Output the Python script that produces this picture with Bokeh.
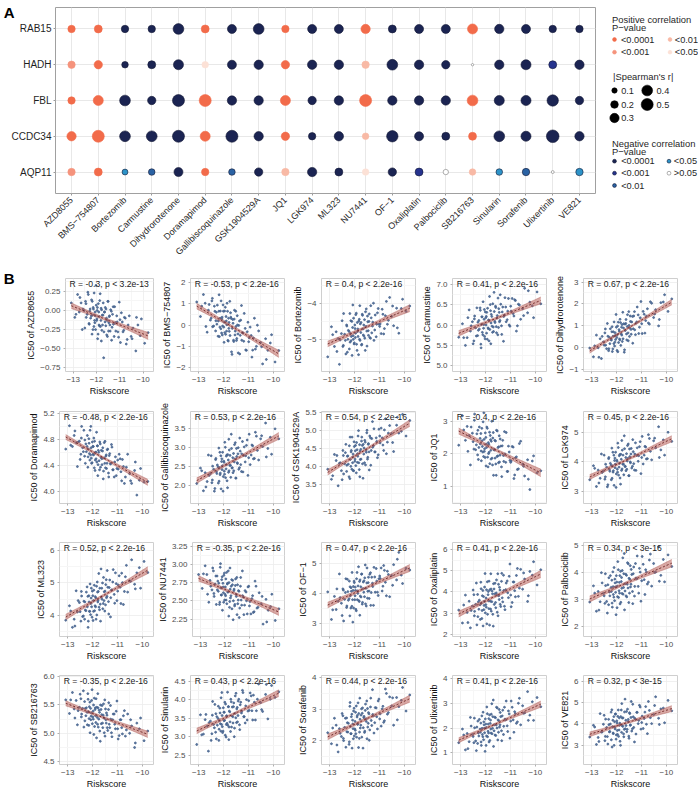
import numpy as np
from bokeh.plotting import figure
from bokeh.layouts import column, row
from bokeh.models import (Range1d, FixedTicker, Label, CustomJSTickFormatter, ColumnDataSource,
                          LinearAxis)
from bokeh.embed import file_html
from bokeh.resources import INLINE
from bokeh.core.properties import value

FONT = "Liberation Sans"

# ---------------- Panel A data ----------------
drugs = ["AZD8055", "BMS-754807", "Bortezomib", "Carmustine", "Dihydrorotenone",
         "Doramapimod", "Gallibiscoquinazole", "GSK1904529A", "JQ1", "LGK974",
         "ML323", "NU7441", "OF-1", "Oxaliplatin", "Palbociclib", "SB216763",
         "Sinularin", "Sorafenib", "Ulixertinib", "VE821"]
genes = ["AQP11", "CCDC34", "FBL", "HADH", "RAB15"]

# Spearman's r (sign = direction of correlation)
r_RAB15 = [0.19, 0.22, -0.19, -0.19, -0.40, 0.22, -0.28, -0.40, 0.19, -0.28,
           -0.28, 0.30, -0.22, -0.28, -0.28, 0.35, -0.30, -0.28, -0.19, -0.19]
r_HADH = [0.19, 0.24, -0.15, -0.22, -0.35, 0.15, -0.28, -0.30, 0.24, -0.30,
          -0.30, 0.19, -0.40, -0.30, -0.24, -0.02, -0.30, -0.35, -0.22, -0.30]
r_FBL = [0.19, 0.35, -0.40, -0.24, -0.50, 0.50, -0.30, -0.30, 0.35, -0.24,
         -0.30, 0.50, -0.30, -0.30, -0.30, 0.40, -0.35, -0.35, -0.45, -0.24]
r_CCDC34 = [0.30, 0.50, -0.40, -0.40, -0.50, 0.35, -0.50, -0.30, 0.24, -0.19,
            -0.30, 0.15, -0.45, -0.28, -0.22, 0.22, -0.40, -0.35, -0.55, -0.30]
r_AQP11 = [0.19, 0.22, -0.12, -0.15, -0.28, 0.19, -0.15, -0.24, 0.19, -0.30,
           -0.22, 0.15, -0.24, -0.22, -0.10, 0.15, -0.15, -0.19, -0.03, -0.19]
# P-value class: 1 <0.0001, 2 <0.001, 3 <0.01, 4 <0.05, 5 >0.05
p_RAB15 = [1] * 20
p_HADH = [2, 1, 1, 1, 1, 4, 1, 1, 1, 1, 1, 3, 1, 1, 1, 5, 1, 1, 2, 1]
p_FBL = [1] * 20
p_CCDC34 = [1, 1, 1, 1, 1, 1, 1, 1, 1, 1, 1, 3, 1, 1, 1, 1, 1, 1, 1, 1]
p_AQP11 = [2, 1, 4, 3, 1, 1, 3, 1, 3, 1, 1, 4, 1, 2, 5, 3, 4, 3, 5, 4]
p_labels = ["<0.0001", "<0.001", "<0.01", "<0.05", ">0.05"]
size_legend = [0.1, 0.2, 0.3, 0.4, 0.5]

spearman = {"AQP11": r_AQP11, "CCDC34": r_CCDC34, "FBL": r_FBL, "HADH": r_HADH, "RAB15": r_RAB15}
pclass = {"AQP11": p_AQP11, "CCDC34": p_CCDC34, "FBL": p_FBL, "HADH": p_HADH, "RAB15": p_RAB15}

# ---------------- Panel B data (one value per sample, same samples in every panel) ----------------
riskscore = [-13.08, -12.93, -12.81, -12.74, -12.66, -12.61, -12.53, -12.47, -12.44, -12.37,
             -12.31, -12.29, -12.22, -12.18, -12.15, -12.13, -12.07, -12.05, -12.02, -11.99,
             -11.96, -11.95, -11.90, -11.87, -11.86, -11.81, -11.78, -11.77, -11.72, -11.69,
             -11.66, -11.62, -11.60, -11.57, -11.53, -11.51, -11.47, -11.44, -11.41, -11.36,
             -11.33, -11.28, -11.24, -11.19, -11.13, -11.08, -11.02, -10.97, -10.89, -10.83,
             -10.76, -10.68, -10.59, -10.51, -10.43, -10.31, -10.22, -10.07, -9.93, -9.78,
             -12.88, -12.71, -12.58, -12.50, -12.45, -12.40, -12.35, -12.32, -12.27, -12.25,
             -12.21, -12.19, -12.17, -12.14, -12.11, -12.10, -12.08, -12.06, -12.04, -12.01,
             -11.98, -11.97, -11.93, -11.92, -11.89, -11.88, -11.84, -11.83, -11.80, -11.79,
             -11.75, -11.74, -11.71, -11.68, -11.65, -11.63, -11.59, -11.56, -11.54, -11.50,
             -11.48, -11.45, -11.42, -11.39, -11.35, -11.31, -11.27, -11.22, -11.17, -11.11,
             -11.05, -10.99, -10.93, -10.86, -10.80, -10.72, -10.64, -10.47, -10.28, -10.12]

ic50_AZD8055 = [0.10, -0.09, 0.21, -0.02, 0.10, -0.25, 0.00, 0.12, -0.09, 0.24,
                -0.18, -0.01, -0.07, 0.12, -0.25, 0.02, -0.16, -0.07, 0.33, -0.13,
                0.04, -0.37, -0.02, -0.20, 0.13, -0.13, 0.01, -0.26, -0.06, -0.62,
                -0.02, 0.04, -0.20, -0.10, -0.34, 0.12, -0.16, -0.07, -0.27, -0.01,
                -0.22, 0.05, -0.34, -0.16, -0.07, -0.28, 0.11, -0.42, -0.15, -0.26,
                -0.10, -0.38, -0.07, -0.34, -0.23, -0.53, -0.19, -0.11, -0.43, -0.29,
                -0.05, 0.17, 0.02, -0.23, 0.09, -0.05, 0.21, -0.17, 0.02, -0.10,
                0.14, -0.31, -0.06, 0.04, -0.21, 0.23, -0.13, -0.02, -0.25, 0.07,
                -0.11, 0.00, -0.31, 0.09, -0.19, -0.08, 0.22, -0.21, 0.03, -0.40,
                -0.06, -0.19, 0.10, -0.28, -0.02, -0.15, 0.02, -0.32, -0.13, 0.12,
                -0.27, -0.08, -0.19, 0.01, -0.39, -0.05, -0.18, 0.05, -0.27, -0.15,
                -0.35, -0.12, -0.03, -0.28, -0.09, -0.44, -0.19, -0.37, -0.09, -0.33]
ic50_BMS754807 = [1.09, 0.40, 1.44, 1.03, -0.34, 0.70, 0.23, 1.14, -0.08, 0.89,
                  0.20, 0.60, -0.53, 1.43, -0.10, 0.66, 0.28, -0.47, 0.95, -0.10,
                  0.66, -0.36, 0.40, 0.01, 1.03, -0.76, 0.12, -0.30, 0.58, 0.31,
                  -1.39, 0.08, -0.72, 0.28, -0.29, 0.65, -0.64, 0.00, -1.32, 0.19,
                  -0.49, 0.92, -0.36, -0.77, -0.16, -1.20, 0.13, -0.61, -0.50, -1.19,
                  0.32, -1.01, -0.28, -0.83, -1.84, -0.65, -1.20, -0.46, -1.75, -1.21,
                  0.89, -0.07, 0.97, 0.32, 1.26, -0.05, 0.65, -0.28, 0.04, 0.94,
                  0.19, 0.65, -0.55, 0.32, -0.18, 1.14, -0.38, 0.37, -0.05, 0.65,
                  -0.82, 0.14, 0.84, -0.44, 0.19, -0.29, 0.65, -0.73, 0.32, -0.16,
                  1.12, -0.50, 0.37, -1.27, -0.16, 0.26, -0.78, 0.70, -0.47, -0.07,
                  -0.73, 0.44, -0.42, -0.02, -1.37, 0.23, -0.72, -0.38, 0.55, -1.18,
                  -0.32, -0.79, -0.10, -1.52, -0.61, -1.14, -0.01, -1.03, -1.63, -0.85]
ic50_Bortezomib = [-5.49, -4.65, -5.20, -4.79, -4.98, -5.70, -4.84, -5.20, -4.28, -5.03,
                   -4.63, -5.36, -4.78, -5.08, -4.48, -4.92, -4.04, -5.00, -5.13, -4.60,
                   -4.83, -4.31, -5.31, -4.71, -4.92, -4.44, -5.03, -4.57, -5.16, -4.30,
                   -4.71, -4.91, -4.45, -5.31, -4.15, -4.77, -4.51, -4.89, -4.29, -4.97,
                   -4.40, -4.63, -3.99, -4.74, -4.93, -4.26, -4.58, -4.57, -4.16, -4.85,
                   -4.34, -4.58, -3.83, -4.36, -4.62, -4.13, -4.83, -3.88, -4.22, -4.07,
                   -4.87, -5.34, -5.02, -4.48, -5.17, -4.86, -5.41, -4.60, -5.00, -4.75,
                   -5.27, -4.28, -4.84, -5.04, -4.50, -5.45, -4.67, -4.90, -4.41, -5.10,
                   -4.70, -4.95, -4.27, -5.14, -4.53, -4.78, -5.43, -4.49, -5.00, -4.06,
                   -4.81, -4.53, -5.14, -4.33, -4.88, -4.60, -4.97, -4.23, -4.64, -5.19,
                   -4.35, -4.76, -4.50, -4.95, -4.06, -4.82, -4.52, -5.03, -4.32, -4.58,
                   -4.14, -4.64, -4.84, -4.30, -4.70, -3.94, -4.47, -4.07, -4.68, -4.14]
ic50_Carmustine = [5.70, 6.03, 5.50, 5.69, 6.37, 5.85, 6.08, 5.61, 6.22, 5.73,
                   6.07, 5.87, 6.42, 5.44, 6.20, 5.82, 6.01, 6.38, 5.66, 6.18,
                   5.80, 6.31, 5.93, 6.12, 5.61, 6.50, 6.05, 6.26, 5.82, 5.95,
                   6.80, 6.06, 6.46, 5.96, 6.23, 5.76, 6.40, 6.08, 6.74, 5.98,
                   6.32, 5.60, 6.24, 6.44, 6.13, 6.65, 5.97, 6.34, 6.28, 6.62,
                   5.85, 6.51, 6.14, 6.40, 6.90, 6.30, 6.56, 6.18, 6.81, 6.52,
                   5.69, 6.18, 5.98, 5.54, 6.15, 5.93, 6.42, 5.74, 6.11, 5.90,
                   6.36, 5.53, 6.01, 6.20, 5.76, 6.57, 5.92, 6.14, 5.72, 6.32,
                   6.00, 6.21, 5.65, 6.41, 5.91, 6.12, 6.70, 5.89, 6.35, 5.54,
                   6.21, 5.97, 6.52, 5.84, 6.33, 6.09, 6.43, 5.81, 6.17, 6.66,
                   5.94, 6.31, 6.11, 6.51, 5.77, 6.44, 6.21, 6.67, 6.08, 6.34,
                   6.00, 6.46, 6.65, 6.22, 6.60, 5.98, 6.49, 6.23, 6.84, 6.47]
ic50_Dihydrorotenone = [-0.01, -0.41, 0.58, 0.00, 0.41, -0.49, 0.27, 0.68, 0.12, 1.11,
                        -0.04, 0.48, 0.39, 0.96, -0.05, 0.73, 0.26, 0.56, 1.52, 0.47,
                        0.99, -0.18, 0.83, 0.36, 1.30, 0.63, 1.06, 0.29, 0.90, -0.20,
                        1.08, 1.29, 0.63, 0.97, 0.32, 1.65, 0.91, 1.20, 0.62, 1.43,
                        0.87, 1.65, 0.60, 1.18, 1.50, 0.94, 2.11, 0.65, 1.53, 1.24,
                        1.78, 1.08, 2.03, 1.38, 1.74, 1.00, 2.06, 2.42, 1.66, 2.23,
                        0.09, -0.43, 0.52, 0.12, 0.86, -0.04, 0.53, -0.13, 0.19, 0.87,
                        0.35, 0.73, -0.17, 0.53, 0.19, 1.18, 0.08, 0.69, 0.38, 0.94,
                        -0.12, 0.60, 1.17, 0.24, 0.76, 0.40, 1.15, 0.11, 0.94, 0.58,
                        1.62, 0.41, 1.10, -0.09, 0.79, 1.11, 0.36, 1.51, 0.68, 1.02,
                        0.52, 1.45, 0.84, 1.18, 0.21, 1.45, 0.82, 1.12, 1.86, 0.65,
                        1.37, 1.10, 1.66, 0.67, 1.44, 1.13, 2.10, 1.54, 1.29, 2.09]
ic50_Doramapimod = [4.65, 5.01, 4.69, 4.86, 4.75, 4.38, 4.77, 4.57, 5.00, 4.61,
                    4.79, 4.43, 4.69, 4.53, 4.81, 4.58, 5.00, 4.51, 4.44, 4.69,
                    4.56, 4.82, 4.32, 4.60, 4.50, 4.70, 4.41, 4.63, 4.33, 4.73,
                    4.52, 4.41, 4.62, 4.19, 4.75, 4.43, 4.54, 4.35, 4.64, 4.28,
                    4.55, 4.42, 4.72, 4.33, 4.22, 4.53, 4.35, 4.34, 4.50, 4.16,
                    4.38, 4.22, 4.57, 4.27, 4.12, 4.32, 3.94, 4.35, 4.14, 4.15,
                    4.71, 4.93, 4.76, 4.49, 4.82, 4.67, 4.94, 4.54, 4.73, 4.61,
                    4.86, 4.37, 4.65, 4.74, 4.48, 4.94, 4.56, 4.67, 4.43, 4.76,
                    4.57, 4.69, 4.36, 4.77, 4.48, 4.60, 4.91, 4.45, 4.70, 4.24,
                    4.60, 4.47, 4.76, 4.37, 4.63, 4.50, 4.67, 4.31, 4.51, 4.77,
                    4.36, 4.56, 4.43, 4.65, 4.22, 4.58, 4.43, 4.68, 4.33, 4.45,
                    4.24, 4.48, 4.57, 4.30, 4.49, 4.12, 4.37, 4.16, 4.45, 4.17]
ic50_Gallibiscoquinazole = [2.06, 2.46, 1.87, 2.34, 2.11, 2.80, 2.32, 2.08, 2.51, 1.86,
                            2.71, 2.37, 2.49, 2.12, 2.87, 2.33, 2.70, 2.52, 1.86, 2.64,
                            2.30, 3.13, 2.44, 2.80, 2.13, 2.67, 2.39, 2.93, 2.53, 3.34,
                            2.46, 2.34, 2.84, 2.62, 3.12, 2.20, 2.76, 2.58, 2.99, 2.47,
                            2.90, 2.37, 3.15, 2.79, 2.62, 3.05, 2.27, 3.34, 2.80, 3.04,
                            2.71, 3.29, 2.67, 3.22, 3.02, 3.63, 2.97, 2.82, 3.48, 3.22,
                            2.39, 1.97, 2.27, 2.78, 2.15, 2.43, 1.93, 2.68, 2.32, 2.54,
                            2.07, 2.98, 2.47, 2.29, 2.78, 1.92, 2.63, 2.42, 2.87, 2.24,
                            2.61, 2.38, 3.00, 2.21, 2.77, 2.55, 1.95, 2.81, 2.35, 3.21,
                            2.53, 2.79, 2.22, 2.97, 2.47, 2.73, 2.39, 3.07, 2.70, 2.20,
                            2.97, 2.60, 2.83, 2.43, 3.24, 2.55, 2.83, 2.36, 3.01, 2.78,
                            3.19, 2.73, 2.55, 3.06, 2.70, 3.39, 2.92, 3.30, 2.75, 3.26]
ic50_GSK1904529A = [3.93, 3.65, 4.34, 4.17, 3.47, 4.09, 3.89, 4.45, 3.80, 4.39,
                    4.04, 4.29, 3.72, 4.82, 4.01, 4.45, 4.27, 3.89, 4.69, 4.15,
                    4.59, 4.03, 4.47, 4.29, 4.85, 3.92, 4.43, 4.20, 4.71, 4.59,
                    3.68, 4.52, 4.11, 4.68, 4.40, 4.94, 4.26, 4.64, 3.91, 4.80,
                    4.45, 5.25, 4.58, 4.41, 4.80, 4.25, 5.04, 4.66, 4.80, 4.45,
                    5.33, 4.68, 5.14, 4.92, 4.42, 5.15, 4.93, 5.45, 4.85, 5.28,
                    3.75, 4.31, 4.11, 3.64, 4.31, 4.08, 4.62, 3.87, 4.30, 4.07,
                    4.58, 3.67, 4.20, 4.41, 3.93, 4.82, 4.11, 4.35, 3.89, 4.56,
                    4.21, 4.44, 3.83, 4.67, 4.12, 4.36, 5.00, 4.11, 4.61, 3.72,
                    4.48, 4.21, 4.82, 4.08, 4.62, 4.35, 4.73, 4.05, 4.46, 5.01,
                    4.21, 4.62, 4.41, 4.85, 4.04, 4.78, 4.54, 5.05, 4.41, 4.70,
                    4.33, 4.85, 5.07, 4.60, 5.02, 4.36, 4.93, 4.67, 5.37, 4.98]
ic50_JQ1 = [2.27, 3.18, 2.42, 2.85, 2.57, 1.66, 2.64, 2.15, 3.23, 2.28,
            2.73, 1.83, 2.48, 2.09, 2.79, 2.23, 3.27, 2.08, 1.89, 2.51,
            2.20, 2.83, 1.60, 2.30, 2.05, 2.57, 1.84, 2.39, 1.66, 2.66,
            2.14, 1.87, 2.40, 1.34, 2.71, 1.94, 2.22, 1.75, 2.46, 1.60,
            2.25, 1.95, 2.69, 1.74, 1.46, 2.24, 1.80, 1.78, 2.21, 1.35,
            1.91, 1.54, 2.39, 1.68, 1.32, 1.82, 0.90, 1.94, 1.42, 1.48,
            2.74, 2.08, 2.83, 2.38, 3.04, 2.13, 2.62, 1.97, 2.20, 2.83,
            2.31, 2.63, 1.79, 2.41, 2.06, 2.99, 1.92, 2.45, 2.16, 2.65,
            1.63, 2.30, 2.79, 1.90, 2.35, 2.01, 2.67, 1.70, 2.44, 2.11,
            3.01, 1.87, 2.49, 1.34, 2.12, 2.42, 1.69, 2.73, 1.92, 2.20,
            1.73, 2.56, 1.96, 2.24, 1.30, 2.42, 1.77, 2.00, 2.66, 1.46,
            2.06, 1.74, 2.23, 1.24, 1.88, 1.52, 2.32, 1.62, 1.22, 1.78]
ic50_LGK974 = [3.39, 3.87, 3.16, 3.72, 3.44, 4.27, 3.69, 3.41, 3.92, 3.15,
               4.15, 3.74, 3.89, 3.44, 4.33, 3.70, 4.13, 3.92, 3.13, 4.06,
               3.65, 4.64, 3.82, 4.25, 3.45, 4.09, 3.76, 4.40, 3.92, 4.89,
               3.84, 3.70, 4.28, 4.03, 4.61, 3.53, 4.18, 3.97, 4.46, 3.85,
               4.35, 3.72, 4.65, 4.22, 4.02, 4.52, 3.60, 4.87, 4.23, 4.51,
               4.11, 4.80, 4.07, 4.72, 4.48, 5.20, 4.41, 4.23, 5.01, 4.70,
               3.78, 3.28, 3.64, 4.23, 3.49, 3.82, 3.22, 4.11, 3.68, 3.95,
               3.39, 4.47, 3.86, 3.65, 4.23, 3.20, 4.05, 3.80, 4.33, 3.59,
               4.02, 3.75, 4.49, 3.55, 4.21, 3.95, 3.24, 4.26, 3.71, 4.73,
               3.92, 4.23, 3.56, 4.45, 3.85, 4.15, 3.75, 4.56, 4.12, 3.53,
               4.44, 4.00, 4.27, 3.79, 4.76, 3.94, 4.27, 3.71, 4.48, 4.21,
               4.69, 4.15, 3.93, 4.53, 4.10, 4.93, 4.36, 4.81, 4.15, 4.75]
ic50_ML323 = [3.86, 4.30, 3.64, 3.89, 4.76, 4.11, 4.40, 3.83, 4.60, 3.99,
              4.42, 4.17, 4.88, 3.64, 4.61, 4.13, 4.37, 4.84, 3.95, 4.61,
              4.13, 4.78, 4.30, 4.54, 3.89, 5.03, 4.47, 4.74, 4.18, 4.35,
              5.43, 4.50, 5.00, 4.37, 4.73, 4.14, 4.95, 4.55, 5.38, 4.43,
              4.86, 3.96, 4.78, 5.03, 4.65, 5.31, 4.46, 4.94, 4.87, 5.30,
              4.34, 5.19, 4.72, 5.07, 5.71, 4.96, 5.31, 4.84, 5.66, 5.32,
              4.14, 3.68, 4.46, 4.12, 4.74, 3.97, 4.44, 3.89, 4.15, 4.72,
              4.27, 4.59, 3.83, 4.42, 4.13, 4.97, 4.03, 4.54, 4.27, 4.75,
              3.85, 4.46, 4.93, 4.15, 4.58, 4.27, 4.90, 4.02, 4.72, 4.42,
              5.29, 4.26, 4.84, 3.83, 4.57, 4.84, 4.21, 5.17, 4.46, 4.75,
              4.33, 5.10, 4.59, 4.87, 4.05, 5.09, 4.55, 4.79, 5.41, 4.38,
              4.98, 4.75, 5.22, 4.37, 5.01, 4.74, 5.54, 5.05, 4.82, 5.47]
ic50_NU7441 = [2.86, 2.67, 2.98, 2.86, 2.48, 2.78, 2.65, 2.91, 2.56, 2.84,
               2.65, 2.77, 2.45, 3.01, 2.58, 2.79, 2.69, 2.48, 2.88, 2.59,
               2.80, 2.51, 2.73, 2.62, 2.91, 2.41, 2.66, 2.54, 2.79, 2.72,
               2.24, 2.66, 2.43, 2.71, 2.56, 2.82, 2.46, 2.64, 2.27, 2.70,
               2.51, 2.91, 2.55, 2.44, 2.62, 2.32, 2.70, 2.49, 2.53, 2.34,
               2.77, 2.40, 2.61, 2.46, 2.18, 2.52, 2.37, 2.59, 2.23, 2.39,
               2.87, 2.59, 2.70, 2.95, 2.60, 2.73, 2.45, 2.84, 2.63, 2.74,
               2.48, 2.96, 2.68, 2.58, 2.83, 2.37, 2.74, 2.61, 2.85, 2.51,
               2.69, 2.57, 2.89, 2.46, 2.74, 2.62, 2.29, 2.75, 2.49, 2.95,
               2.57, 2.70, 2.39, 2.78, 2.50, 2.64, 2.45, 2.80, 2.59, 2.31,
               2.72, 2.51, 2.63, 2.40, 2.82, 2.44, 2.57, 2.31, 2.64, 2.50,
               2.69, 2.43, 2.32, 2.57, 2.35, 2.70, 2.41, 2.56, 2.21, 2.42]
ic50_OF1 = [4.04, 3.12, 3.89, 3.45, 3.73, 4.64, 3.66, 4.14, 3.07, 4.02,
            3.57, 4.46, 3.81, 4.21, 3.50, 4.06, 3.03, 4.22, 4.40, 3.78,
            4.09, 3.46, 4.69, 3.99, 4.24, 3.72, 4.44, 3.90, 4.63, 3.63,
            4.15, 4.41, 3.88, 4.94, 3.57, 4.34, 4.06, 4.53, 3.82, 4.68,
            4.02, 4.33, 3.59, 4.54, 4.82, 4.03, 4.48, 4.49, 4.07, 4.92,
            4.36, 4.73, 3.88, 4.59, 4.95, 4.44, 5.36, 4.32, 4.83, 4.77,
            3.44, 4.14, 3.85, 3.25, 4.10, 3.79, 4.48, 3.52, 4.05, 3.76,
            4.40, 3.24, 3.91, 4.18, 3.56, 4.69, 3.78, 4.09, 3.50, 4.35,
            3.91, 4.20, 3.41, 4.48, 3.78, 4.07, 4.88, 3.75, 4.39, 3.26,
            4.21, 3.87, 4.64, 3.69, 4.37, 4.03, 4.51, 3.64, 4.16, 4.84,
            3.83, 4.35, 4.07, 4.63, 3.59, 4.53, 4.22, 4.86, 4.03, 4.40,
            3.92, 4.57, 4.84, 4.23, 4.76, 3.91, 4.62, 4.26, 5.13, 4.60]
ic50_Oxaliplatin = [3.14, 2.53, 3.85, 3.03, 3.56, 2.30, 3.33, 3.87, 3.08, 4.42,
                    2.83, 3.53, 3.39, 4.15, 2.74, 3.82, 3.16, 3.55, 4.87, 3.40,
                    4.10, 2.49, 3.87, 3.21, 4.51, 3.56, 4.14, 3.09, 3.91, 2.38,
                    4.14, 4.41, 3.50, 3.95, 3.04, 4.86, 3.82, 4.22, 3.41, 4.50,
                    3.72, 4.79, 3.32, 4.11, 4.52, 3.73, 5.32, 3.30, 4.47, 4.06,
                    4.78, 3.79, 5.07, 4.13, 4.61, 3.55, 4.97, 5.43, 4.33, 5.05,
                    3.38, 2.55, 3.12, 4.09, 2.87, 3.41, 2.44, 3.88, 3.18, 3.61,
                    2.70, 4.46, 3.47, 3.12, 4.07, 2.39, 3.78, 3.36, 4.23, 3.01,
                    3.71, 3.28, 4.48, 2.94, 4.02, 3.58, 2.43, 4.10, 3.19, 4.86,
                    3.54, 4.04, 2.94, 4.39, 3.41, 3.91, 3.25, 4.57, 3.85, 2.87,
                    4.36, 3.64, 4.09, 3.31, 4.88, 3.53, 4.07, 3.16, 4.42, 3.96,
                    4.74, 3.85, 3.50, 4.47, 3.77, 5.11, 4.18, 4.90, 3.82, 4.79]
ic50_Palbociclib = [2.90, 3.50, 2.56, 3.29, 2.91, 3.99, 3.22, 2.85, 3.51, 2.49,
                    3.80, 3.27, 3.44, 2.86, 4.02, 3.18, 3.75, 3.46, 2.43, 3.64,
                    3.10, 4.40, 3.32, 3.88, 2.83, 3.66, 3.22, 4.07, 3.44, 4.70,
                    3.31, 3.13, 3.89, 3.56, 4.32, 2.88, 3.75, 3.46, 4.11, 3.29,
                    3.95, 3.12, 4.33, 3.76, 3.48, 4.15, 2.93, 4.59, 3.73, 4.10,
                    3.57, 4.46, 3.49, 4.33, 4.01, 4.95, 3.89, 3.65, 4.65, 4.22,
                    3.23, 2.60, 3.61, 3.13, 3.95, 2.92, 3.54, 2.80, 3.13, 3.88,
                    3.29, 3.71, 2.71, 3.47, 3.08, 4.18, 2.95, 3.61, 3.26, 3.88,
                    2.69, 3.49, 4.10, 3.07, 3.63, 3.23, 4.04, 2.89, 3.81, 3.41,
                    4.54, 3.19, 3.95, 2.61, 3.58, 3.93, 3.09, 4.36, 3.42, 3.78,
                    3.23, 4.25, 3.56, 3.92, 2.84, 4.20, 3.48, 3.79, 4.61, 3.23,
                    4.01, 3.69, 4.30, 3.18, 4.01, 3.64, 4.68, 4.00, 3.67, 4.48]
ic50_SB216763 = [5.59, 5.35, 5.72, 5.43, 5.58, 5.15, 5.46, 5.61, 5.34, 5.75,
                 5.22, 5.44, 5.37, 5.60, 5.14, 5.47, 5.24, 5.36, 5.77, 5.29,
                 5.50, 4.98, 5.42, 5.19, 5.61, 5.28, 5.45, 5.11, 5.37, 4.86,
                 5.42, 5.49, 5.18, 5.32, 5.01, 5.59, 5.24, 5.36, 5.10, 5.42,
                 5.16, 5.49, 5.01, 5.24, 5.34, 5.08, 5.57, 4.90, 5.24, 5.10,
                 5.31, 4.95, 5.34, 5.00, 5.13, 4.75, 5.18, 5.27, 4.87, 5.04,
                 5.59, 5.27, 5.40, 5.69, 5.29, 5.44, 5.11, 5.56, 5.31, 5.45,
                 5.15, 5.70, 5.38, 5.26, 5.55, 5.01, 5.44, 5.30, 5.58, 5.17,
                 5.39, 5.25, 5.62, 5.12, 5.45, 5.31, 4.92, 5.46, 5.16, 5.70,
                 5.25, 5.41, 5.04, 5.50, 5.17, 5.33, 5.10, 5.52, 5.27, 4.95,
                 5.43, 5.18, 5.32, 5.05, 5.54, 5.10, 5.25, 4.94, 5.34, 5.16,
                 5.39, 5.08, 4.96, 5.24, 4.99, 5.40, 5.06, 5.24, 4.83, 5.08]
ic50_Sinularin = [2.79, 3.59, 3.07, 3.46, 3.28, 2.61, 3.42, 3.08, 3.95, 3.24,
                  3.62, 2.94, 3.49, 3.20, 3.77, 3.35, 4.19, 3.27, 3.15, 3.66,
                  3.44, 3.93, 2.99, 3.56, 3.36, 3.81, 3.26, 3.69, 3.14, 3.94,
                  3.56, 3.37, 3.81, 3.00, 4.10, 3.51, 3.75, 3.40, 3.96, 3.32,
                  3.86, 3.64, 4.25, 3.54, 3.37, 4.00, 3.69, 3.71, 4.10, 3.45,
                  3.93, 3.70, 4.42, 3.92, 3.68, 4.14, 3.48, 4.38, 4.06, 4.21,
                  3.05, 3.60, 3.38, 2.90, 3.58, 3.33, 3.87, 3.12, 3.54, 3.31,
                  3.82, 2.90, 3.43, 3.64, 3.15, 4.05, 3.33, 3.57, 3.11, 3.78,
                  3.43, 3.66, 3.04, 3.88, 3.33, 3.56, 4.20, 3.31, 3.81, 2.92,
                  3.67, 3.40, 4.01, 3.26, 3.80, 3.54, 3.91, 3.23, 3.63, 4.17,
                  3.38, 3.79, 3.57, 4.01, 3.19, 3.93, 3.69, 4.19, 3.54, 3.83,
                  3.45, 3.97, 4.18, 3.70, 4.12, 3.45, 4.01, 3.73, 4.41, 4.01]
ic50_Sorafenib = [2.25, 1.90, 2.71, 2.49, 1.64, 2.38, 2.13, 2.79, 2.00, 2.71,
                  2.28, 2.57, 1.88, 3.21, 2.22, 2.76, 2.53, 2.06, 3.03, 2.37,
                  2.90, 2.22, 2.75, 2.52, 3.20, 2.07, 2.68, 2.40, 3.01, 2.87,
                  1.76, 2.77, 2.26, 2.96, 2.61, 3.26, 2.43, 2.89, 2.01, 3.07,
                  2.64, 3.62, 2.79, 2.57, 3.04, 2.37, 3.32, 2.85, 3.01, 2.58,
                  3.64, 2.84, 3.39, 3.10, 2.49, 3.37, 3.08, 3.69, 2.94, 3.45,
                  2.40, 1.86, 2.23, 2.86, 2.07, 2.42, 1.79, 2.72, 2.27, 2.55,
                  1.96, 3.09, 2.45, 2.22, 2.84, 1.76, 2.65, 2.38, 2.94, 2.15,
                  2.61, 2.33, 3.10, 2.11, 2.80, 2.52, 1.78, 2.86, 2.27, 3.35,
                  2.49, 2.81, 2.11, 3.04, 2.41, 2.73, 2.30, 3.16, 2.69, 2.06,
                  3.02, 2.55, 2.85, 2.34, 3.35, 2.48, 2.83, 2.24, 3.05, 2.76,
                  3.26, 2.69, 2.46, 3.09, 2.63, 3.50, 2.89, 3.36, 2.66, 3.28]
ic50_Ulixertinib = [1.41, 1.96, 1.12, 1.78, 1.45, 2.43, 1.74, 1.41, 2.01, 1.09,
                    2.28, 1.80, 1.96, 1.44, 2.49, 1.74, 2.25, 1.99, 1.06, 2.16,
                    1.68, 2.85, 1.87, 2.38, 1.44, 2.19, 1.80, 2.56, 1.99, 3.13,
                    1.89, 1.72, 2.42, 2.12, 2.81, 1.52, 2.30, 2.04, 2.63, 1.89,
                    2.49, 1.74, 2.84, 2.33, 2.09, 2.69, 1.59, 3.09, 2.33, 2.66,
                    2.19, 3.00, 2.13, 2.90, 2.61, 3.47, 2.52, 2.31, 3.23, 2.86,
                    1.72, 1.17, 2.08, 1.66, 2.40, 1.48, 2.04, 1.38, 1.68, 2.35,
                    1.83, 2.20, 1.30, 1.99, 1.65, 2.64, 1.53, 2.13, 1.81, 2.37,
                    1.30, 2.02, 2.58, 1.65, 2.16, 1.80, 2.53, 1.50, 2.32, 1.96,
                    2.98, 1.77, 2.46, 1.26, 2.13, 2.44, 1.70, 2.84, 2.00, 2.33,
                    1.83, 2.75, 2.13, 2.46, 1.49, 2.72, 2.07, 2.36, 3.09, 1.86,
                    2.57, 2.28, 2.84, 1.83, 2.58, 2.25, 3.20, 2.60, 2.31, 3.06]
ic50_VE821 = [3.38, 3.93, 3.03, 3.36, 4.48, 3.61, 3.98, 3.21, 4.22, 3.40,
              3.96, 3.62, 4.55, 2.91, 4.17, 3.54, 3.85, 4.46, 3.28, 4.14,
              3.50, 4.35, 3.71, 4.03, 3.18, 4.65, 3.92, 4.27, 3.53, 3.74,
              5.16, 3.92, 4.58, 3.74, 4.21, 3.42, 4.48, 3.95, 5.05, 3.77,
              4.33, 3.15, 4.21, 4.54, 4.01, 4.87, 3.75, 4.36, 4.25, 4.81,
              3.54, 4.63, 4.01, 4.44, 5.27, 4.26, 4.70, 4.05, 5.10, 4.61,
              3.85, 3.17, 3.62, 4.40, 3.41, 3.83, 3.05, 4.21, 3.64, 3.99,
              3.25, 4.66, 3.86, 3.57, 4.34, 2.99, 4.10, 3.76, 4.46, 3.48,
              4.04, 3.69, 4.65, 3.41, 4.28, 3.93, 2.99, 4.34, 3.60, 4.95,
              3.88, 4.28, 3.39, 4.56, 3.77, 4.17, 3.63, 4.69, 4.11, 3.32,
              4.52, 3.93, 4.30, 3.66, 4.92, 3.83, 4.26, 3.52, 4.54, 4.16,
              4.79, 4.06, 3.78, 4.55, 3.98, 5.05, 4.29, 4.86, 3.97, 4.74]

ic50 = [ic50_AZD8055, ic50_BMS754807, ic50_Bortezomib, ic50_Carmustine, ic50_Dihydrorotenone,
        ic50_Doramapimod, ic50_Gallibiscoquinazole, ic50_GSK1904529A, ic50_JQ1, ic50_LGK974,
        ic50_ML323, ic50_NU7441, ic50_OF1, ic50_Oxaliplatin, ic50_Palbociclib,
        ic50_SB216763, ic50_Sinularin, ic50_Sorafenib, ic50_Ulixertinib, ic50_VE821]

cor_labels = ["R = -0.3, p < 3.2e-13", "R = -0.53, p < 2.2e-16", "R = 0.4, p < 2.2e-16",
              "R = 0.41, p < 2.2e-16", "R = 0.67, p < 2.2e-16", "R = -0.48, p < 2.2e-16",
              "R = 0.53, p < 2.2e-16", "R = 0.54, p < 2.2e-16", "R = -0.4, p < 2.2e-16",
              "R = 0.45, p < 2.2e-16", "R = 0.52, p < 2.2e-16", "R = -0.35, p < 2.2e-16",
              "R = 0.47, p < 2.2e-16", "R = 0.41, p < 2.2e-16", "R = 0.34, p < 3e-16",
              "R = -0.35, p < 2.2e-16", "R = 0.43, p < 2.2e-16", "R = 0.44, p < 2.2e-16",
              "R = 0.41, p < 2.2e-16", "R = 0.32, p < 3e-15"]

y_ticks = [[-0.75, -0.5, -0.25, 0, 0.25], [-2, -1, 0, 1, 2], [-5, -4], [5, 5.5, 6, 6.5, 7],
           [-1, 0, 1, 2, 3], [4.0, 4.4, 4.8, 5.2], [2, 2.5, 3, 3.5], [3.5, 4, 4.5, 5, 5.5],
           [1, 2, 3], [3, 4, 5], [4, 5, 6], [2.25, 2.5, 2.75, 3, 3.25], [3, 4, 5],
           [2, 3, 4, 5, 6], [2, 3, 4, 5], [4.5, 5, 5.5, 6], [2.5, 3, 3.5, 4, 4.5],
           [2, 3, 4], [1, 2, 3, 4], [3, 4, 5, 6]]
y_decimals = [2, 0, 0, 1, 0, 1, 1, 1, 0, 0, 0, 2, 0, 0, 0, 1, 1, 0, 0, 0]
x_ticks = [-13, -12, -11, -10]
n_patients = 370

# ---------------- layout / style ----------------
y_lims = [(-0.80, 0.42), (-2.2, 2.2), (-5.9, -3.3), (4.86, 7.14), (-1.08, 3.16),
          (3.81, 5.23), (1.54, 3.93), (2.98, 5.53), (0.47, 3.31), (2.58, 5.72),
          (3.36, 6.24), (2.01, 3.30), (2.55, 5.69), (1.89, 6.34), (1.62, 5.11),
          (4.45, 6.02), (2.25, 4.65), (1.24, 4.07), (0.53, 4.12), (2.09, 6.27)]
pos_colors = ["#F26B4A", "#F5937C", "#F8B9A5", "#FCE1D6"]
neg_colors = ["#1B2452", "#26338E", "#2A62A3", "#2D93C8", "#FFFFFF"]

A_H, A_TOP, A_BOTTOM, A_LEFT, A_W, LG_W = 266, 7, 73, 54, 598, 100
A_FRAME_BOTTOM = A_H - A_BOTTOM


def dot_size(r):
    return 12.0 * np.sqrt(abs(r) / 0.5)


def fmt(d):
    return CustomJSTickFormatter(args=dict(d=d),
                                 code="return tick.toFixed(d).replace('-', '\u2212');")


def letter_axis(letter, at, standoff):
    """An extra, tick-less left axis whose single label is the panel letter."""
    ax = LinearAxis(ticker=FixedTicker(ticks=[at]),
                    formatter=CustomJSTickFormatter(code="return '%s';" % letter))
    ax.axis_line_color = None
    ax.major_tick_line_color = None
    ax.minor_tick_line_color = None
    ax.major_tick_out = 0
    ax.major_tick_in = 0
    ax.major_label_standoff = standoff
    ax.major_label_text_font = FONT
    ax.major_label_text_font_size = "15px"
    ax.major_label_text_font_style = "bold"
    ax.major_label_text_color = "#000000"
    return ax


# ---------------- Panel A ----------------
ax_x, ax_y, ax_s, ax_f, ax_l = [], [], [], [], []
for gi, g in enumerate(genes):
    for di, (r, pc) in enumerate(zip(spearman[g], pclass[g])):
        ax_x.append(di + 1)
        ax_y.append(gi + 1)
        ax_s.append(dot_size(r))
        if r > 0:
            ax_f.append(pos_colors[pc - 1])
            ax_l.append(pos_colors[pc - 1])
        else:
            ax_f.append(neg_colors[pc - 1])
            ax_l.append("#7a7a7a" if pc == 5 else "#141a36")

pa = figure(width=A_W, height=A_H, x_range=Range1d(0.4, 20.6), y_range=Range1d(0.4, 5.6),
            output_backend="svg", toolbar_location=None,
            min_border_left=A_LEFT, min_border_right=3, min_border_top=A_TOP,
            min_border_bottom=A_BOTTOM)
pa.scatter(x="x", y="y", size="s", fill_color="f", line_color="l", line_width=0.6,
           source=ColumnDataSource(dict(x=ax_x, y=ax_y, s=ax_s, f=ax_f, l=ax_l)))
pa.xaxis.ticker = FixedTicker(ticks=list(range(1, 21)))
pa.yaxis.ticker = FixedTicker(ticks=[1, 2, 3, 4, 5])
pa.xaxis.major_label_overrides = {i + 1: d.replace("-", "\u2212") for i, d in enumerate(drugs)}
pa.yaxis.major_label_overrides = {i + 1: g for i, g in enumerate(genes)}
pa.xaxis.major_label_orientation = np.pi / 4
for ax in (pa.xaxis[0], pa.yaxis[0]):
    ax.axis_line_color = None
    ax.major_tick_line_color = "#9a9a9a"
    ax.major_tick_out = 2
    ax.major_tick_in = 0
    ax.minor_tick_line_color = None
    ax.major_label_text_font = FONT
    ax.major_label_text_color = "#1f1f1f"
    ax.major_label_standoff = 3
pa.yaxis.major_label_standoff = 2
pa.xaxis.major_label_text_font_size = "9px"
pa.yaxis.major_label_text_font_size = "10px"
pa.grid.grid_line_color = "#e8e8e8"
pa.outline_line_color = "#a0a0a0"
a_ppy = (A_FRAME_BOTTOM - A_TOP) / 5.2
pa.add_layout(letter_axis("A", 5.6 - 5 / a_ppy, -6), "left")

# ---------------- legend for Panel A (page-pixel coordinates) ----------------
lg = figure(width=LG_W, height=A_H, x_range=Range1d(0, LG_W),
            y_range=Range1d(A_FRAME_BOTTOM, A_TOP),
            output_backend="svg", toolbar_location=None, x_axis_type=None, y_axis_type=None,
            min_border_left=0, min_border_right=0, min_border_top=A_TOP,
            min_border_bottom=A_BOTTOM)
lg.grid.visible = False
lg.outline_line_color = None
tx, ty, tt = [], [], []
title_x, title_y, title_t = [], [], []


def add_title(x, y, t):
    title_x.append(x); title_y.append(y); title_t.append(t)


add_title(13.5, 18.5, "Positive correlation")
add_title(13.5, 26.5, "P\u2212value")
add_title(14.5, 76, "|Spearman's r|")
add_title(13.5, 142.5, "Negative correlation")
add_title(13.5, 150.5, "P\u2212value")

dx, dy, ds, dfc, dlc = [], [], [], [], []
pos_slots = [(16, 39), (16, 51.7), (71.5, 39), (71.5, 51.7)]
for k, (sx, sy) in enumerate(pos_slots):
    dx.append(sx); dy.append(sy); ds.append(3.8); dfc.append(pos_colors[k]); dlc.append(pos_colors[k])
    tx.append(sx + 6.5 if k < 2 else sx + 4.8); ty.append(sy); tt.append(p_labels[k])
size_slots = [(16, 90), (16, 104), (16, 117.5), (48.7, 90), (48.7, 104)]
for k, (sx, sy) in enumerate(size_slots):
    dx.append(sx); dy.append(sy); ds.append(dot_size(size_legend[k])); dfc.append("#000000"); dlc.append("#000000")
    tx.append(sx + (6.7 if k < 3 else 9.3)); ty.append(sy); tt.append(f"{size_legend[k]:.1f}")
neg_slots = [(16, 160.7), (16, 172.7), (16, 185), (70.5, 160.7), (70.5, 172.7)]
for k, (sx, sy) in enumerate(neg_slots):
    dx.append(sx); dy.append(sy); ds.append(3.8); dfc.append(neg_colors[k])
    dlc.append("#7a7a7a" if k == 4 else "#141a36")
    tx.append(sx + (6.7 if k < 3 else 4.8)); ty.append(sy); tt.append(p_labels[k])

lg.scatter(x=dx, y=dy, size=ds, fill_color=dfc, line_color=dlc, line_width=0.6)
lg.text(x=tx, y=ty, text=tt, text_font=value(FONT), text_font_size="9.2px",
        text_baseline="middle", text_align="left", text_color="#1f1f1f")
lg.text(x=title_x, y=title_y, text=title_t, text_font=value(FONT), text_font_size="9.4px",
        text_baseline="middle", text_align="left", text_color="#1f1f1f")

# ---------------- Panel B ----------------
col_w = [154, 131, 131, 131, 151]
col_l = [59, 36, 36, 36, 36]
col_r = [1, 1, 1, 1, 21]
row_h = [132, 132, 133, 128]
row_t = [12, 13, 12, 12]
FRAME_H = 97
X0, X1 = -13.33, -9.55

xr = np.array(riskscore)
rows = [[], [], [], []]
for k, drug in enumerate(drugs):
    ri, ci = divmod(k, 5)
    y0, y1 = y_lims[k]
    p = figure(width=col_w[ci], height=row_h[ri],
               x_range=Range1d(X0, X1), y_range=Range1d(y0, y1),
               output_backend="svg", toolbar_location=None,
               min_border_left=col_l[ci], min_border_right=col_r[ci],
               min_border_top=row_t[ri], min_border_bottom=row_h[ri] - row_t[ri] - FRAME_H)
    yv = np.array(ic50[k])
    slope, icpt = np.polyfit(xr, yv, 1)
    resid = yv - (icpt + slope * xr)
    s = np.sqrt(np.sum(resid ** 2) / (len(xr) - 2))
    xs = np.linspace(xr.min(), xr.max(), 80)
    yh = icpt + slope * xs
    se = s * np.sqrt(1.0 / n_patients + (xs - xr.mean()) ** 2 / (n_patients * xr.var()))
    lo, hi = yh - 1.96 * se, yh + 1.96 * se

    p.scatter(xr, yv, size=1.9, color="#46648f", alpha=0.85)
    p.varea(x=xs, y1=lo, y2=hi, fill_color="#b9605a", fill_alpha=0.55)
    p.line(xs, lo, line_color="#a34a45", line_alpha=0.55, line_width=0.7)
    p.line(xs, hi, line_color="#a34a45", line_alpha=0.55, line_width=0.7)
    p.line(xs, yh, line_color="#6e2323", line_width=1.0, line_dash="2 2")

    tk = y_ticks[k]
    step = tk[1] - tk[0]
    p.yaxis.ticker = FixedTicker(ticks=tk, minor_ticks=[t - step / 2 for t in tk] + [tk[-1] + step / 2])
    p.xaxis.ticker = FixedTicker(ticks=x_ticks, minor_ticks=[-13.5, -12.5, -11.5, -10.5, -9.5])
    p.yaxis.formatter = fmt(y_decimals[k])
    p.xaxis.formatter = fmt(0)
    p.xaxis.axis_label = "Riskscore"
    p.yaxis.axis_label = "IC50 of " + drug.replace("-", "\u2212")
    for ax in (p.xaxis[0], p.yaxis[0]):
        ax.axis_line_color = None
        ax.major_tick_line_color = "#b0b0b0"
        ax.major_tick_out = 2
        ax.major_tick_in = 0
        ax.minor_tick_line_color = None
        ax.major_label_text_font = FONT
        ax.major_label_text_font_size = "8px"
        ax.major_label_text_color = "#4d4d4d"
        ax.major_label_standoff = 1
        ax.axis_label_text_font = FONT
        ax.axis_label_text_font_size = "9px"
        ax.axis_label_text_font_style = "normal"
        ax.axis_label_text_color = "#111111"
        ax.axis_label_standoff = 1
    p.grid.grid_line_color = "#ececec"
    p.grid.grid_line_width = 0.8
    p.grid.minor_grid_line_color = "#f6f6f6"
    p.outline_line_color = "#cfcfcf"
    p.add_layout(Label(x=-13.16, y=y1 - 5.5 * (y1 - y0) / FRAME_H, text=cor_labels[k],
                       text_font=FONT, text_font_size="8.6px", text_baseline="middle",
                       text_color="#1a1a1a"))
    if k == 0:
        p.add_layout(letter_axis("B", y1, 9), "left")
    rows[ri].append(p)

layout = column(row(pa, lg), *[row(*r) for r in rows])
open("out.html", "w").write(file_html(layout, INLINE, "chart"))
